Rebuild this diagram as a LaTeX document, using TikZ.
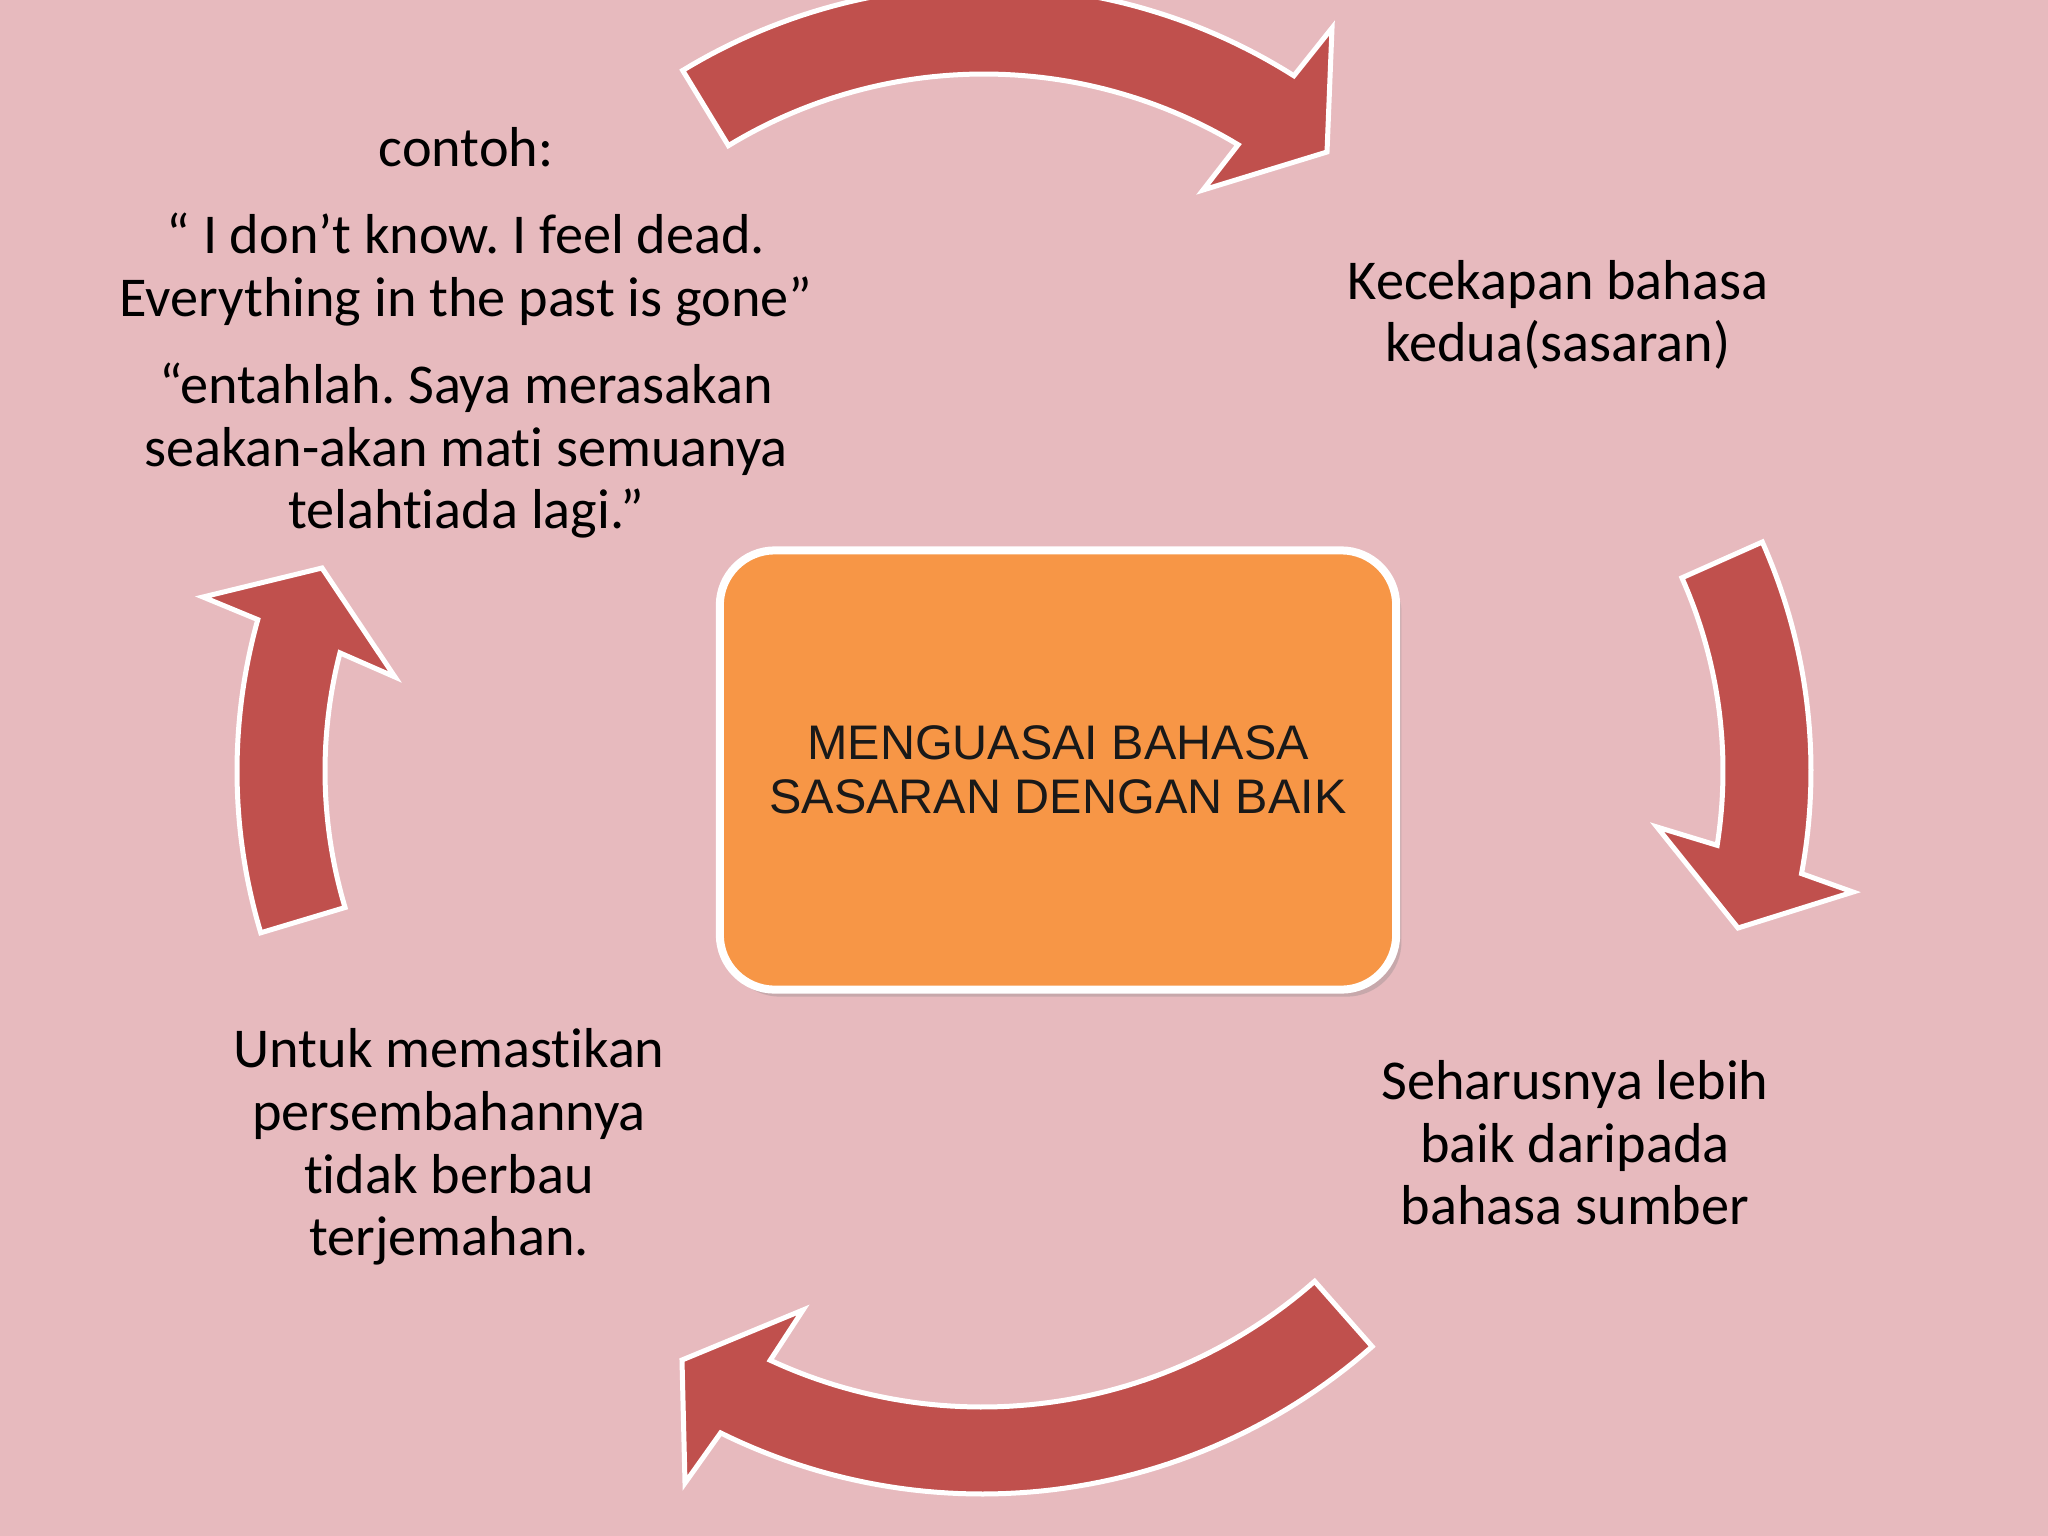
\documentclass[tikz,border=0pt]{standalone}
\usepackage{fontspec}
\setmainfont{Carlito}[Ligatures=NoCommon]
\newfontfamily\arialf{Liberation Sans}
\usetikzlibrary{shadows}
\definecolor{bgpink}{RGB}{231,186,190}
\definecolor{arrowred}{RGB}{192,80,77}
\definecolor{boxorange}{RGB}{247,150,70}
\frenchspacing
\begin{document}
\begin{tikzpicture}[x=0.01cm,y=-0.01cm,
  cyclearrow/.style={fill=arrowred, draw=white, line width=0.05cm, line join=miter},
  lbl/.style={align=center, font=\fontsize{16}{17.8}\selectfont, text=black, inner sep=0pt},
  centerbox/.style={draw=white, line width=0.08cm, fill=boxorange, rounded corners=0.55cm,
    minimum width=6.76cm, minimum height=4.39cm, inner sep=0pt, align=center,
    font=\arialf\fontsize{13.8}{15.2}\selectfont, text=black!90,
    drop shadow={opacity=0.3, shadow xshift=1.5pt, shadow yshift=-2pt}}
  ]
\useasboundingbox (0,0) rectangle (2048,1536);
\clip (0,0) rectangle (2048,1536);
\fill[bgpink] (0,0) rectangle (2048,1536);

% top arrow
\path[cyclearrow] plot[domain=-121.3:-57.7,samples=60] ({984+580*cos(\x)},{566+580*sin(\x)})
  -- (1332,28) -- (1327,152) -- (1203,190)
  -- plot[domain=-58.9:-121.3,samples=60] ({984+492*cos(\x)},{566+492*sin(\x)}) -- cycle;
% right arrow
\path[cyclearrow] plot[domain=-24:10.5,samples=40] ({1248+563*cos(\x)},{771+563*sin(\x)})
  -- (1853,892) -- (1738,928) -- (1657,827)
  -- plot[domain=9:-24,samples=40] ({1248+475*cos(\x)},{771+475*sin(\x)}) -- cycle;
% bottom arrow
\path[cyclearrow] plot[domain=48.6:116.3,samples=60] ({982+590*cos(\x)},{904+590*sin(\x)})
  -- (685,1483) -- (682,1360) -- (803,1310)
  -- plot[domain=114.9:48.6,samples=60] ({982+503*cos(\x)},{904+503*sin(\x)}) -- cycle;
% left arrow
\path[cyclearrow] plot[domain=163.3:195.6,samples=40] ({800+563*cos(\x)},{771+563*sin(\x)})
  -- (203,597) -- (322,568) -- (395,677)
  -- plot[domain=194.4:163.3,samples=40] ({800+475*cos(\x)},{771+475*sin(\x)}) -- cycle;

\node[centerbox] (box) at (1058,770) {MENGUASAI BAHASA\\SASARAN DENGAN BAIK};

\node[lbl] (ex) at (466,333) {contoh:\\[7pt]“ I don’t know. I feel dead.\\Everything in the past is gone”\\[7pt]“entahlah. Saya merasakan\\seakan-akan mati semuanya\\telahtiada lagi.”};
\node[lbl] (t1) at (1558,315) {Kecekapan bahasa\\kedua(sasaran)};
\node[lbl] (t2) at (1575,1143) {Seharusnya lebih\\baik daripada\\bahasa sumber};
\node[lbl] (t3) at (449,1147) {Untuk memastikan\\persembahannya\\tidak berbau\\terjemahan.};
\end{tikzpicture}
\end{document}
